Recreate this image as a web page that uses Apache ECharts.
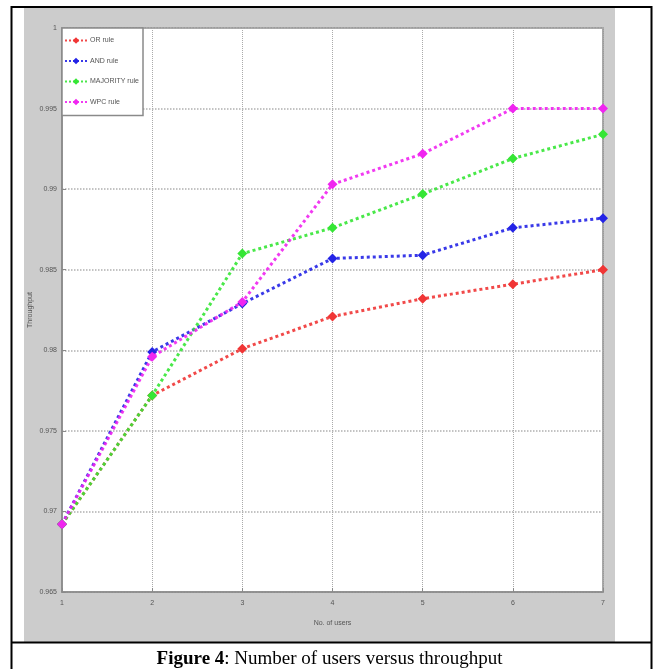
<!DOCTYPE html>
<html>
<head>
<meta charset="utf-8">
<script src="https://cdn.jsdelivr.net/npm/echarts@6/dist/echarts.min.js"></script>
<style>
html,body{margin:0;padding:0;background:#fff;}
#chart{width:659px;height:669px;}
</style>
</head>
<body>
<div id="chart"></div>
<script>
const categories = ['1','2','3','4','5','6','7'];
const yTicks = [0.965, 0.97, 0.975, 0.98, 0.985, 0.99, 0.995, 1];
const seriesNames = ['OR rule', 'AND rule', 'MAJORITY rule', 'WPC rule'];
const orRule = [0.9692, 0.9772, 0.9801, 0.9821, 0.9832, 0.9841, 0.9850];
const andRule = [0.9692, 0.9799, 0.9829, 0.9857, 0.9859, 0.9876, 0.9882];
const majorityRule = [0.9692, 0.9772, 0.9860, 0.9876, 0.9897, 0.9919, 0.9934];
const wpcRule = [0.9692, 0.9796, 0.9830, 0.9903, 0.9922, 0.9950, 0.9950];
const colors = ['#f03535', '#2323e6', '#35e635', '#f025f0'];

const chart = echarts.init(document.getElementById('chart'));
const tickFont = 'Liberation Sans Narrow, Liberation Sans, sans-serif';
const dataSets = [orRule, andRule, majorityRule, wpcRule];

const option = {
  animation: false,
  backgroundColor: '#ffffff',
  title: {
    text: '{b|Figure 4}: Number of users versus throughput',
    left: 'center',
    top: 645,
    textStyle: {
      fontFamily: 'Liberation Serif, serif',
      fontSize: 19,
      fontWeight: 'normal',
      color: '#000',
      rich: {
        b: { fontFamily: 'Liberation Serif, serif', fontSize: 19, fontWeight: 'bold', color: '#000' }
      }
    }
  },
  graphic: [
    { type: 'rect', z: -20, shape: { x: 24, y: 8, width: 591, height: 634 }, style: { fill: '#cccccc' } },
    { type: 'rect', z: -19, shape: { x: 11.5, y: 7, width: 640, height: 700 }, style: { fill: null, stroke: '#000', lineWidth: 2 } },
    { type: 'line', z: -19, shape: { x1: 11, y1: 642.5, x2: 652, y2: 642.5 }, style: { stroke: '#000', lineWidth: 2 } }
  ],
  grid: {
    left: 62, top: 28, right: 56, bottom: 77,
    show: true, backgroundColor: '#ffffff', borderColor: '#8a8a8a', borderWidth: 1.5
  },
  legend: {
    orient: 'vertical',
    left: 62, top: 28,
    padding: [9, 4, 10, 2],
    itemWidth: 22, itemHeight: 8, itemGap: 13.5,
    backgroundColor: '#ffffff',
    borderColor: '#8a8a8a', borderWidth: 1.5,
    textStyle: { fontSize: 7, color: '#555', fontFamily: tickFont, padding: [0, 0, 0, -2] },
    data: seriesNames
  },
  xAxis: {
    type: 'category',
    data: categories,
    boundaryGap: false,
    name: 'No. of users',
    nameLocation: 'middle',
    nameGap: 28,
    nameMoveOverlap: false,
    nameTextStyle: { fontSize: 7, color: '#555', fontFamily: tickFont },
    axisLine: { lineStyle: { color: '#8a8a8a', width: 1.5 } },
    axisTick: { inside: true, length: 4, lineStyle: { color: '#8a8a8a' } },
    axisLabel: { fontSize: 7, color: '#555', fontFamily: tickFont, margin: 8 },
    splitLine: { show: true, lineStyle: { color: '#aaaaaa', type: 'dotted', width: 1 } }
  },
  yAxis: {
    type: 'value',
    min: yTicks[0],
    max: yTicks[yTicks.length - 1],
    interval: 0.005,
    name: 'Throughput',
    nameLocation: 'middle',
    nameGap: 28,
    nameMoveOverlap: false,
    nameTextStyle: { fontSize: 7, color: '#555', fontFamily: tickFont },
    axisLine: { show: true, lineStyle: { color: '#8a8a8a', width: 1.5 } },
    axisTick: { show: true, inside: true, length: 4, lineStyle: { color: '#8a8a8a' } },
    axisLabel: {
      fontSize: 7, color: '#555', fontFamily: tickFont, margin: 5,
      formatter: v => String(+(+v).toFixed(3))
    },
    splitLine: { show: true, lineStyle: { color: '#b0b0b0', type: 'dotted', width: 1.5 } }
  },
  series: seriesNames.map((name, i) => ({
    name: name,
    type: 'line',
    data: dataSets[i],
    symbol: 'diamond',
    symbolSize: 10,
    itemStyle: { color: colors[i] },
    lineStyle: { color: colors[i], width: 3, type: 'dotted', opacity: 0.9 },
    z: 2 + i
  }))
};
chart.setOption(option);
</script>
</body>
</html>
